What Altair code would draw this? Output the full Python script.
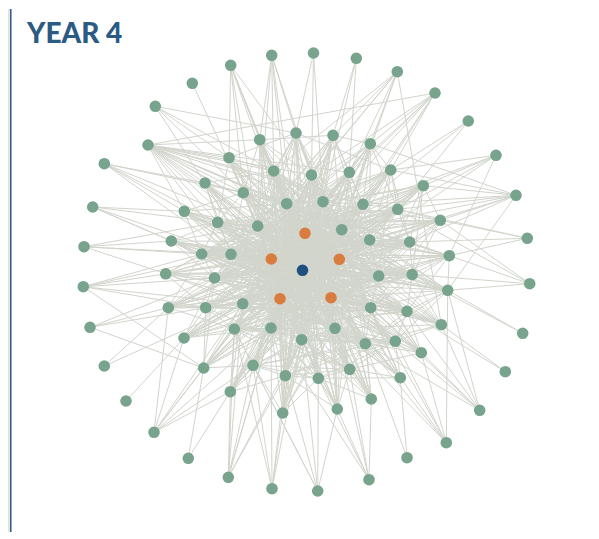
import altair as alt
import pandas as pd

TITLE = "YEAR 4"

# node layout (index 0 = centre, 1..88 = members, 89..93 = inner circle)
node_x = [302.5,
    271.7, 313.5, 356.3, 397.3, 435.0, 468.3, 496.0, 516.0, 527.3, 529.7,
    522.7, 505.3, 479.7, 446.3, 407.0, 369.0, 317.7, 272.0, 228.3, 188.3,
    154.0, 126.0, 104.3, 90.0, 83.3, 84.0, 92.7, 104.3, 155.3, 192.3,
    230.7, 148.0,
    296.0, 333.0, 370.3, 390.7, 423.3, 440.3, 449.3, 447.7, 441.3, 421.3,
    400.3, 371.3, 337.3, 282.7, 230.3, 203.7, 184.0, 168.3, 165.7, 171.3,
    184.3, 205.0, 229.0, 259.7,
    273.7, 311.5, 349.3, 243.3, 286.7, 323.0, 363.0, 397.7, 217.7, 257.7,
    341.7, 369.7, 409.7, 201.7, 231.0, 378.7, 412.2, 214.5, 242.7, 205.7,
    370.7, 407.0, 234.3, 271.0, 301.7, 335.0, 365.3, 395.3, 253.0, 285.3,
    318.3, 349.7,
    305.0, 271.3, 339.3, 280.0, 331.0]
node_y = [269.3,
    54.3, 52.0, 57.3, 70.7, 92.0, 120.0, 154.3, 194.3, 237.3, 282.7,
    332.3, 370.7, 409.3, 441.7, 456.7, 478.7, 490.0, 487.7, 476.3, 457.3,
    431.3, 400.0, 365.0, 326.3, 285.7, 245.7, 206.0, 162.7, 105.3, 82.3,
    64.3, 144.0,
    132.0, 134.3, 142.7, 169.0, 184.7, 219.3, 254.7, 289.3, 323.7, 351.7,
    376.7, 398.0, 408.0, 412.0, 390.7, 367.0, 337.0, 306.7, 272.8, 240.0,
    210.3, 182.0, 156.7, 138.7,
    170.0, 174.0, 171.3, 191.7, 202.7, 200.7, 203.3, 208.3, 221.3, 225.0,
    228.7, 239.0, 241.0, 253.0, 253.3, 275.0, 273.5, 277.0, 302.7, 306.7,
    306.7, 310.3, 328.0, 327.0, 338.7, 327.3, 342.7, 340.3, 364.3, 374.7,
    377.3, 368.3,
    232.3, 258.0, 258.3, 297.7, 296.7]
node_group = ["centre"] + ["member"] * 88 + ["inner"] * 5

# links, listed per node
links = {
    0: list(range(33, 94)),
    1: [33, 57, 61, 58, 0, 56, 66],
    2: [58, 33, 62],
    3: [34, 62, 59],
    4: [34, 35, 59, 57, 61, 58, 41, 67],
    5: [32, 35, 36, 59, 63, 62, 58, 89, 67],
    6: [36, 63, 64],
    7: [36, 63, 64, 37, 39, 68],
    8: [35, 36, 37, 38, 63, 64, 68, 69, 67, 40],
    9: [38, 69, 64, 39],
    10: [39, 40, 73, 38, 64],
    11: [40, 73],
    12: [41, 78],
    13: [40, 41, 42, 77, 78, 83, 84],
    14: [40, 42, 43, 83, 84, 82, 77],
    15: [43, 83],
    16: [44, 45, 87, 88, 82, 80],
    17: [45, 86, 87, 81, 79, 85],
    18: [46, 85, 86, 79, 80, 81],
    19: [47, 85, 79, 75, 80, 86, 81, 92],
    20: [47, 48],
    21: [48, 49, 79, 75, 85, 47, 80, 50],
    22: [49],
    23: [50, 75],
    24: [50, 74, 76, 48],
    25: [51, 74, 76, 70, 71, 48, 75],
    26: [52, 70, 71, 65, 51],
    27: [53, 65, 52, 70, 71],
    28: [54, 53, 60, 65, 66, 71],
    29: [55, 54, 57, 60, 33],
    30: [60],
    31: [56, 57, 61, 60, 66, 55, 58, 0],
    32: [55, 56, 57, 60, 61, 66, 58, 59, 62, 67, 89, 90, 0, 71, 65, 54,
         53, 63, 64, 68, 72],
    33: [57, 58, 61, 62, 89, 66, 67, 36, 55, 81, 80, 82, 86, 87, 75, 77, 71, 72],
    34: [58, 59, 62, 63, 89, 67, 61, 35, 56, 72, 80, 81, 85, 86, 79, 75, 71, 74],
    35: [59, 63, 64, 62, 67, 68, 91, 36, 79, 80, 81, 85, 75, 74, 71, 70],
    36: [63, 64, 67, 68, 62, 91, 69, 72, 61, 79, 75, 74, 76, 80, 85, 70, 71],
    37: [64, 68, 69, 67, 91, 72, 38, 62, 73, 74, 75, 76, 70, 71, 79, 80, 65],
    38: [69, 68, 72, 73, 91, 67, 77, 64, 70, 71, 74, 65, 66, 75, 76, 60],
    39: [69, 72, 73, 77, 78, 91, 68, 93, 40, 70, 71, 65, 66, 74, 60, 61, 75],
    40: [73, 72, 77, 78, 93, 91, 83, 84, 68, 65, 66, 70, 71, 60, 61, 57, 74],
    41: [78, 77, 84, 83, 93, 82, 73, 60, 61, 65, 66, 57, 70, 71, 58],
    42: [84, 83, 77, 78, 82, 93, 88, 57, 60, 61, 65, 66, 58, 70, 62],
    43: [84, 83, 88, 82, 93, 87, 77, 57, 58, 60, 61, 66, 65, 62, 71],
    44: [88, 87, 83, 82, 93, 81, 57, 58, 61, 62, 60, 66, 59, 65],
    45: [87, 88, 81, 82, 86, 93, 92, 57, 58, 59, 61, 62, 63, 60, 66],
    46: [86, 87, 81, 80, 85, 92, 82, 58, 59, 62, 63, 67, 64, 61, 57],
    47: [85, 86, 79, 80, 75, 92, 59, 62, 63, 64, 67, 68, 58, 69],
    48: [79, 85, 75, 76, 80, 92, 74, 62, 63, 64, 67, 68, 69, 59, 72],
    49: [76, 79, 75, 74, 92, 80, 90, 63, 64, 67, 68, 69, 72, 73, 59],
    50: [76, 74, 75, 70, 71, 90, 79, 64, 67, 68, 69, 72, 73, 77, 63],
    51: [74, 70, 71, 76, 75, 90, 66, 68, 69, 72, 73, 77, 78, 64, 82],
    52: [70, 71, 65, 66, 90, 74, 72, 73, 77, 78, 82, 83, 69, 84],
    53: [65, 66, 70, 71, 60, 90, 61, 77, 78, 82, 83, 84, 88, 73, 72],
    54: [60, 65, 66, 57, 61, 90, 71, 77, 78, 82, 83, 84, 88, 87, 81],
    55: [57, 60, 61, 66, 89, 90, 65, 81, 82, 83, 87, 88, 84, 78, 77],
    56: [57, 61, 58, 66, 89, 60, 62, 80, 81, 82, 86, 87, 88, 83, 77],
    57: [89, 90, 61, 62, 66, 60, 81, 72, 82, 83, 87, 88, 77, 78, 73, 69],
    58: [89, 91, 61, 62, 67, 80, 87, 79, 85, 86, 81, 82, 75, 77, 88],
    59: [89, 91, 62, 63, 67, 75, 79, 80, 85, 86, 74, 76, 71, 70],
    60: [90, 89, 61, 66, 65, 71, 82, 77, 72, 73, 78, 83, 84, 88, 87, 69],
    61: [89, 90, 91, 66, 62, 80, 86, 77, 78, 82, 83, 87, 88, 72, 73],
    62: [89, 91, 93, 67, 63, 85, 79, 80, 81, 86, 75, 74, 71, 70],
    63: [89, 91, 67, 68, 64, 79, 74, 75, 76, 80, 81, 85, 70, 66],
    64: [91, 68, 69, 67, 76, 70, 71, 74, 75, 79, 80, 65, 66],
    65: [90, 66, 70, 71, 73, 72, 77, 78, 82, 83, 69, 68, 64],
    66: [89, 90, 92, 71, 61, 78, 73, 77, 82, 83, 84, 87, 68, 69],
    67: [89, 91, 93, 68, 83, 70, 74, 75, 76, 79, 80, 85, 86],
    68: [91, 93, 69, 72, 74, 70, 71, 75, 76, 79, 80, 85, 65],
    69: [91, 72, 73, 70, 65, 66, 74, 75, 76, 79, 71, 60],
    70: [90, 71, 74, 72, 73, 77, 78, 82, 83, 69, 64, 63],
    71: [90, 92, 74, 75, 77, 72, 73, 78, 82, 83, 84, 69, 68],
    72: [91, 93, 73, 77, 74, 75, 76, 79, 80, 65, 66, 61],
    73: [91, 93, 77, 78, 51, 74, 75, 76, 70, 65, 66, 60, 79],
    74: [90, 92, 75, 76, 77, 78, 72, 73, 69, 68, 64, 63],
    75: [90, 92, 79, 80, 72, 73, 77, 78, 68, 69, 63, 64],
    76: [90, 92, 79, 72, 73, 77, 78, 69, 68, 64, 62],
    77: [91, 93, 82, 83, 79, 80, 74, 75, 70, 65, 60, 57],
    78: [93, 83, 84, 79, 80, 74, 75, 70, 71, 65, 60],
    79: [92, 80, 85, 82, 83, 84, 77, 78, 72, 63, 64],
    80: [92, 90, 81, 86, 82, 83, 84, 77, 78, 72, 73, 59],
    81: [92, 93, 82, 87, 83, 84, 85, 86, 88, 57, 58, 59],
    82: [93, 91, 83, 88, 85, 86, 79, 80, 74, 75, 57, 60],
    83: [93, 88, 84, 85, 86, 79, 80, 74, 75, 60, 57],
    84: [93, 88, 85, 86, 87, 79, 80, 75, 60, 65],
    85: [92, 86, 87, 88, 81, 82, 83, 84, 58, 59],
    86: [92, 87, 88, 82, 83, 84, 62, 63, 58, 59],
    87: [93, 88, 85, 79, 80, 75, 57, 58, 60, 61],
    88: [93, 85, 86, 79, 80, 75, 76, 57, 61],
    89: [90, 91, 92, 93, 71, 72, 74, 75, 77, 80, 81, 82, 83, 85, 86, 87,
         88, 70, 73, 68, 65, 66],
    90: [92, 93, 91, 67, 68, 72, 73, 77, 82, 83, 63, 64, 69, 87, 88, 81,
         86, 59, 58],
    91: [93, 92, 70, 71, 74, 75, 79, 80, 65, 66, 85, 86, 60, 57, 61],
    92: [93, 57, 58, 59, 62, 63, 67, 68, 64, 72, 73, 61, 69],
    93: [57, 60, 61, 65, 66, 70, 71, 74, 58, 76, 62],
}

nodes = pd.DataFrame({"x": node_x, "y": node_y, "group": node_group})

pairs = set()
for s, ts in links.items():
    for t in ts:
        if s != t:
            pairs.add((min(s, t), max(s, t)))
pairs = sorted(pairs)
edges = pd.DataFrame({
    "x": [node_x[a] for a, b in pairs],
    "y": [node_y[a] for a, b in pairs],
    "x2": [node_x[b] for a, b in pairs],
    "y2": [node_y[b] for a, b in pairs],
})

W, H = 583, 523
xs = alt.Scale(domain=[8, 8 + W], nice=False, zero=False)
ys = alt.Scale(domain=[8, 8 + H], nice=False, zero=False, reverse=True)

edge_layer = alt.Chart(edges).mark_rule(
    color="#d2d5cc", strokeWidth=1, opacity=1
).encode(
    x=alt.X("x:Q", scale=xs, axis=None),
    y=alt.Y("y:Q", scale=ys, axis=None),
    x2="x2:Q",
    y2="y2:Q",
)

node_layer = alt.Chart(nodes).mark_circle(size=135, opacity=1).encode(
    x=alt.X("x:Q", scale=xs, axis=None),
    y=alt.Y("y:Q", scale=ys, axis=None),
    color=alt.Color(
        "group:N",
        scale=alt.Scale(domain=["member", "inner", "centre"],
                        range=["#78a48e", "#d97c3f", "#1f5080"]),
        legend=None,
    ),
    order=alt.Order("order:Q"),
).transform_calculate(
    order="datum.group == 'member' ? 0 : (datum.group == 'inner' ? 1 : 2)"
)

strip = alt.Chart(pd.DataFrame({"a": [0]})).mark_rect(color="#dce6df").encode(
    x=alt.value(0), x2=alt.value(2), y=alt.value(0), y2=alt.value(H)
)
border = alt.Chart(pd.DataFrame({"a": [0]})).mark_rule(
    color="#2b5a83", strokeWidth=1.5
).encode(x=alt.value(2.8), y=alt.value(0), y2=alt.value(H))

title = alt.Chart(pd.DataFrame({"t": [TITLE]})).mark_text(
    align="left", baseline="alphabetic", font="Lato", fontSize=28,
    fontWeight=900, color="#2b5a83"
).encode(x=alt.value(19), y=alt.value(34), text="t:N")

chart = alt.layer(edge_layer, node_layer, strip, border, title).properties(
    width=W, height=H, padding=0, background="white"
).configure_view(stroke=None)

chart.save("out.html", embed_options={"renderer": "svg", "actions": False})
